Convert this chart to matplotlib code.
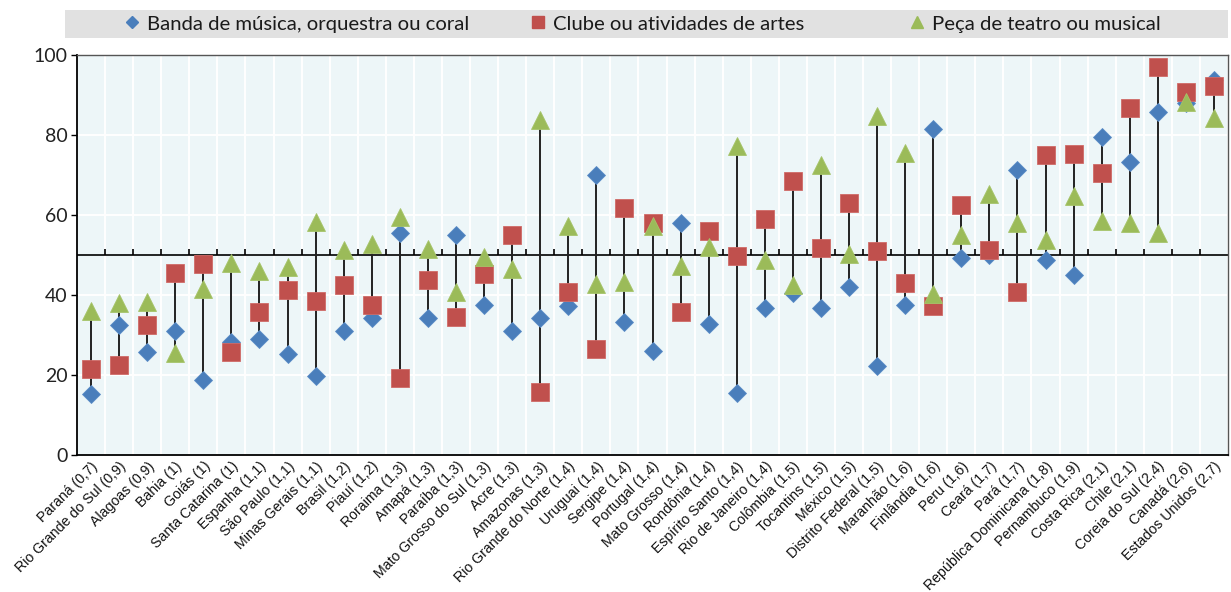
import matplotlib
matplotlib.use("Agg")
import matplotlib.pyplot as plt
from matplotlib.lines import Line2D
from matplotlib.patches import Rectangle
import numpy as np

categories = ["Paraná (0,7)", "Rio Grande do Sul (0,9)", "Alagoas (0,9)", "Bahia (1)", "Goiás (1)",
              "Santa Catarina (1)", "Espanha (1,1)", "São Paulo (1,1)", "Minas Gerais (1,1)", "Brasil (1,2)",
              "Piauí (1,2)", "Roraima (1,3)", "Amapá (1,3)", "Paraíba (1,3)", "Mato Grosso do Sul (1,3)",
              "Acre (1,3)", "Amazonas (1,3)", "Rio Grande do Norte (1,4)", "Uruguai (1,4)", "Sergipe (1,4)",
              "Portugal (1,4)", "Mato Grosso (1,4)", "Rondônia (1,4)", "Espírito Santo (1,4)",
              "Rio de Janeiro (1,4)", "Colômbia (1,5)", "Tocantins (1,5)", "México (1,5)",
              "Distrito Federal (1,5)", "Maranhão (1,6)", "Finlândia (1,6)", "Peru (1,6)", "Ceará (1,7)",
              "Pará (1,7)", "República Dominicana (1,8)", "Pernambuco (1,9)", "Costa Rica (2,1)",
              "Chile (2,1)", "Coreia do Sul (2,4)", "Canadá (2,6)", "Estados Unidos (2,7)"]

banda = [15.2, 32.5, 25.8, 31.0, 18.8, 28.3, 29.0, 25.2, 19.8, 31.0,
         34.2, 55.5, 34.2, 55.0, 37.5, 31.0, 34.2, 37.3, 70.0, 33.2,
         26.1, 58.1, 32.7, 15.6, 36.8, 40.6, 36.7, 42.1, 22.3, 37.5,
         81.4, 49.2, 50.0, 71.2, 48.7, 44.9, 79.5, 73.3, 85.8, 87.9, 93.7]

clube = [21.4, 22.5, 32.5, 45.5, 47.8, 25.8, 35.7, 41.3, 38.6, 42.5,
         37.5, 19.3, 43.7, 34.6, 45.2, 55.0, 15.8, 40.7, 26.5, 61.8,
         58.1, 35.8, 56.0, 49.8, 59.0, 68.5, 51.8, 62.9, 51.0, 42.9,
         37.3, 62.5, 51.2, 40.7, 74.9, 75.3, 70.4, 86.7, 96.9, 90.8, 92.3]

peca = [35.9, 38.0, 38.2, 25.5, 41.5, 48.0, 46.0, 46.9, 58.3, 51.2,
        52.7, 59.6, 51.5, 40.7, 49.6, 46.5, 83.7, 57.2, 42.8, 43.3,
        57.2, 47.2, 52.1, 77.2, 48.7, 42.5, 72.5, 50.2, 84.7, 75.6,
        40.2, 55.0, 65.2, 57.9, 53.7, 64.7, 58.5, 57.9, 55.4, 88.3, 84.2]

series_names = ["Banda de música, orquestra ou coral", "Clube ou atividades de artes",
                "Peça de teatro ou musical"]

BLUE = "#4a7ebb"
RED = "#c0504d"
GREEN = "#9bbb59"
UI_FONT = ["Lato", "DejaVu Sans"]

fig = plt.figure(figsize=(12.31, 5.92), dpi=100)
ax = fig.add_axes([77 / 1231, 1 - 455 / 592, (1228 - 77) / 1231, 400 / 592])
ax.set_facecolor("#edf6f8")

x = np.arange(len(categories))
vals = np.array([banda, clube, peca])
lo = vals.min(axis=0)
hi = vals.max(axis=0)
bounds = np.arange(len(categories) + 1) - 0.5

ax.set_xlim(-0.5, len(categories) - 0.5)
ax.set_ylim(0, 100)

# white grid
ax.set_xticks(bounds, minor=True)
ax.grid(True, which="minor", axis="x", color="white", lw=1.4, zorder=0)
ax.set_yticks(np.arange(0, 101, 20))
ax.grid(True, which="major", axis="y", color="white", lw=1.4, zorder=0)
ax.set_axisbelow(True)

# horizontal reference line at 50 with upward tick marks at category boundaries
ax.axhline(50, color="black", lw=1.2, zorder=2)
ax.plot(bounds[1:-1], np.full(len(bounds) - 2, 50.0), ls="none", marker=2, ms=4,
        mew=1.2, color="black", zorder=2)

ax.vlines(x, lo, hi, color="#222222", lw=1.4, zorder=3)

ax.plot(x, banda, ls="none", marker="D", ms=9.0, color=BLUE, mec="#5a8cc6", mew=0.6, zorder=4)
ax.plot(x, clube, ls="none", marker="s", ms=12.3, color=RED, mec="#d06a67", mew=0.6, zorder=5)
ax.plot(x, peca, ls="none", marker="^", ms=12.5, color=GREEN, mec="#a6c46a", mew=0.6, zorder=6)

ax.set_xticks(x)
ax.set_xticklabels(categories, rotation=45, ha="right", rotation_mode="anchor",
                   fontsize=10.2, family=["Liberation Sans", "DejaVu Sans"], color="#111111")
ax.tick_params(axis="x", which="both", length=0, pad=3)
ax.tick_params(axis="y", direction="out", length=4, width=1, pad=3)
for lab in ax.get_yticklabels():
    lab.set_family(UI_FONT)
    lab.set_fontsize(14)
    lab.set_color("#222222")

for side in ["left", "bottom"]:
    ax.spines[side].set_color("black")
    ax.spines[side].set_linewidth(1.3)
for side in ["top", "right"]:
    ax.spines[side].set_color("#555555")
    ax.spines[side].set_linewidth(1.0)

# legend band
fig.patches.append(Rectangle((65 / 1231, 1 - 38 / 592), (1228 - 65) / 1231, 28 / 592,
                             transform=fig.transFigure, facecolor="#e1e1e1", edgecolor="none", zorder=0))
handles = [Line2D([], [], ls="none", marker="D", ms=6.5, color=BLUE),
           Line2D([], [], ls="none", marker="s", ms=8.5, color=RED),
           Line2D([], [], ls="none", marker="^", ms=9, color=GREEN)]
legend_x = [126, 532, 911]
for h, name, lx in zip(handles, series_names, legend_x):
    leg = fig.legend([h], [name], loc="center left", frameon=False, borderpad=0, borderaxespad=0,
                     bbox_to_anchor=(lx / 1231, 1 - 24 / 592), prop={"family": UI_FONT, "size": 14.6},
                     handlelength=0.6, handletextpad=0.45)
    for t in leg.get_texts():
        t.set_color("#1a1a1a")

fig.savefig("out.png", dpi=100)
